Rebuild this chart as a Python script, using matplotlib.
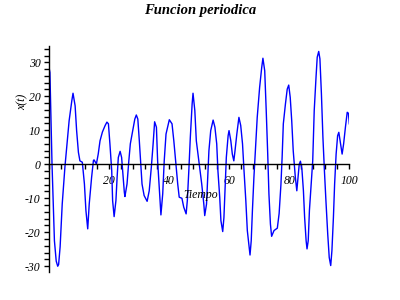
import matplotlib.pyplot as plt
from matplotlib.ticker import MultipleLocator, FixedLocator

# values (t, x(t))
t = [0.0, 0.2, 0.6, 0.9, 1.3, 1.7, 2.3, 2.8, 3.1, 3.6,
     4.3, 5.2, 5.8, 6.6, 7.5, 7.9, 8.6, 9.1, 9.7, 10.2,
     11.0, 11.7, 12.2, 12.8, 13.3, 14.1, 14.7, 14.9, 15.7, 16.3,
     16.9, 17.7, 18.6, 19.2, 19.7, 20.2, 20.8, 21.1, 21.6, 22.2,
     22.6, 23.0, 23.6, 24.1, 24.6, 25.0, 25.2, 25.9, 26.5, 27.0,
     27.8, 28.5, 29.0, 29.5, 30.0, 30.5, 30.9, 31.6, 32.6, 33.3,
     34.0, 34.6, 35.1, 35.7, 36.1, 36.7, 37.2, 37.8, 38.3, 38.9,
     40.0, 40.9, 41.5, 42.2, 42.8, 43.3, 44.2, 44.8, 45.6, 46.0,
     46.5, 47.0, 47.6, 47.9, 48.5, 49.0, 49.9, 50.8, 51.5, 51.8,
     52.4, 52.8, 53.2, 53.8, 54.6, 55.2, 55.8, 56.2, 56.8, 57.2,
     57.8, 58.2, 58.6, 59.0, 59.6, 59.9, 60.5, 61.0, 61.5, 61.9,
     62.5, 63.2, 63.8, 64.4, 64.9, 65.5, 66.0, 66.6, 66.9, 67.3,
     67.7, 68.2, 68.8, 69.3, 70.1, 70.8, 71.2, 71.8, 72.3, 72.8,
     73.2, 73.7, 74.1, 74.9, 76.0, 76.6, 77.2, 77.6, 78.0, 78.7,
     79.3, 79.8, 80.3, 80.8, 81.3, 82.0, 82.5, 82.9, 83.3, 83.7,
     84.2, 84.7, 85.1, 85.6, 85.9, 86.3, 86.7, 87.3, 87.8, 88.3,
     88.9, 89.3, 89.8, 90.2, 90.7, 91.2, 91.7, 92.2, 92.8, 93.3,
     93.8, 94.2, 94.7, 95.1, 95.6, 96.1, 96.5, 97.1, 97.6, 98.1,
     98.7, 99.3, 99.7, 100.0]

x = [28.0, 27.0, 11.5, 0.0, -11.7, -22.5, -28.5, -30.0, -29.5, -24.3,
     -11.7, -0.8, 5.0, 12.8, 18.7, 20.9, 17.2, 9.9, 3.5, 1.0,
     0.6, -5.8, -13.6, -19.0, -11.7, -3.8, 1.1, 1.3, 0.1, 3.0,
     6.9, 9.5, 11.4, 12.4, 11.9, 6.0, -1.9, -10.7, -15.4, -10.7,
     -3.8, 2.0, 3.8, 2.0, -3.8, -8.2, -9.5, -5.8, 1.0, 6.0,
     9.9, 13.3, 14.5, 13.3, 6.9, 0.0, -5.8, -9.2, -10.9, -7.8,
     -0.9, 6.0, 12.5, 10.9, 1.0, -7.8, -14.9, -8.7, 1.0, 8.9,
     13.1, 11.9, 6.9, 0.0, -5.8, -9.7, -10.0, -12.6, -14.6, -10.7,
     -1.9, 7.9, 17.7, 20.9, 15.8, 6.9, 0.6, -5.8, -11.7, -15.1,
     -11.7, -3.8, 4.0, 9.9, 13.0, 10.9, 6.0, -1.9, -9.7, -16.6,
     -19.8, -15.7, -6.8, 2.0, 8.4, 9.9, 6.9, 3.0, 1.0, 4.0,
     8.9, 13.8, 11.4, 6.0, -1.9, -10.7, -19.5, -24.4, -26.7, -22.5,
     -13.6, -3.8, 6.0, 13.8, 22.6, 28.5, 31.2, 27.5, 15.8, 3.0,
     -8.7, -17.6, -21.2, -19.5, -18.8, -14.5, -6.0, 2.0, 11.9, 17.7,
     22.1, 23.3, 19.7, 12.8, 4.0, -3.8, -7.8, -3.8, 0.0, 0.9,
     -1.5, -7.8, -15.6, -22.5, -24.9, -22.5, -13.6, -5.8, 1.0, 15.8,
     25.6, 31.5, 33.2, 31.0, 20.7, 7.9, -1.9, -10.7, -20.5, -27.4,
     -29.8, -25.4, -15.6, -5.8, 3.0, 8.4, 9.4, 6.0, 3.0, 6.0,
     10.9, 15.3, 15.0, 11.9]

xticks = [20, 40, 60, 80, 100]
yticks = [-30, -20, -10, 0, 10, 20, 30]

fig = plt.figure(figsize=(4, 3), dpi=100)
ax = fig.add_axes([0.1233, 0.0933, 0.75, 0.7534])

ax.plot(t, x, color='#0000ff', lw=1.0)

ax.set_xlim(0, 100)
ax.set_ylim(-31.7, 34.8)

for s in ['top', 'right']:
    ax.spines[s].set_visible(False)
ax.spines['bottom'].set_position(('data', 0))
ax.spines['left'].set_position(('data', 0))
ax.spines['bottom'].set_linewidth(1.0)
ax.spines['left'].set_linewidth(1.0)

ax.xaxis.set_major_locator(FixedLocator(xticks))
ax.xaxis.set_minor_locator(MultipleLocator(4))
ax.yaxis.set_major_locator(FixedLocator(yticks))
ax.yaxis.set_minor_locator(MultipleLocator(2))
ax.tick_params(which='both', direction='out', length=3.5, width=1.0)
ax.tick_params(axis='x', which='major', pad=4)
ax.tick_params(axis='y', which='major', pad=3)

lblfont = dict(family='Liberation Serif', style='italic', size=8.5)
ax.set_xticklabels([str(v) for v in xticks], fontdict=lblfont)
ax.set_yticklabels([str(v) for v in yticks], fontdict=lblfont)

ax.text(50.5, -9, 'Tiempo', ha='center', va='center', fontsize=8.5,
        family='Liberation Serif', style='italic')
fig.text(0.056, 0.66, 'x(t)', rotation=90, ha='center', va='center',
         fontsize=8.5, family='Liberation Serif', style='italic')

fig.text(0.5, 0.965, 'Funcion periodica', ha='center', va='center',
         fontsize=10.5, family='Liberation Serif', style='italic', weight='bold')

fig.savefig('out.png', dpi=100)
